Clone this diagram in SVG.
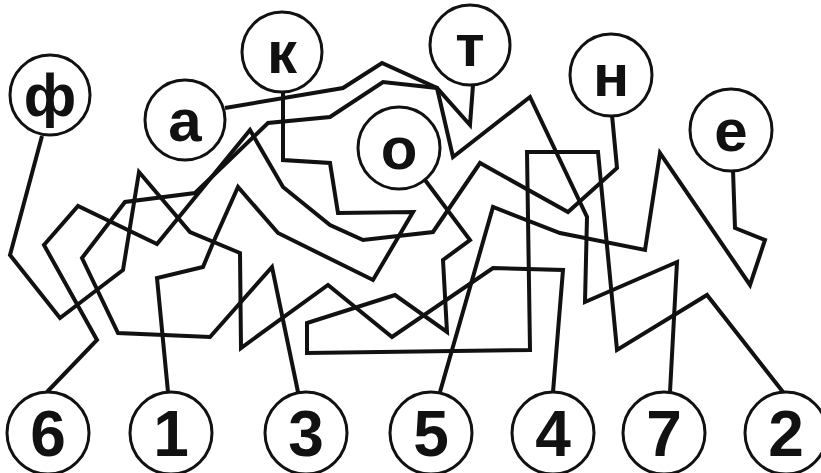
<svg xmlns="http://www.w3.org/2000/svg" width="821" height="473" viewBox="0 0 821 473">
<style>
.c{fill:#fff;stroke:#111;stroke-width:3}
.t{font-family:"Liberation Sans",Arial,sans-serif;font-weight:bold;fill:#111;text-anchor:middle}
.l{font-size:60px}
.n{font-size:64px}
.w{fill:none;stroke:#111;stroke-width:4;stroke-linejoin:miter}
</style>
<rect width="821" height="473" fill="#fff"/>
<g id="connectors">
<polyline class="w" points="42,136 10,255 60,318 123,270 139,172 190,232 240,253 241,348 328,285 392,337 493,268 563,270 553,392"/>
<polyline class="w" points="47,392 97,340 44,245 78,206 157,244 250,130 283,187 330,225 363,240 433,232 480,163 568,212 617,168 612,115"/>
<polyline class="w" points="283,92 283,160 330,163 338,213 413,212 373,280 278,233 238,187 213,243 203,267 157,278 168,392"/>
<polyline class="w" points="473,85 470,125 437,88 383,82 330,117 268,123 195,193 125,202 82,258 118,333 210,337 272,267 298,392"/>
<polyline class="w" points="425,180 470,240 443,260 447,332 395,295 307,323 307,353 530,350 527,152 598,152 617,350 707,295 783,392"/>
<polyline class="w" points="225,108 343,88 382,63 437,88 453,157 530,97 587,217 585,302 677,262 670,392"/>
<polyline class="w" points="733,170 735,228 765,240 750,285 660,153 645,250 560,233 493,207 440,392"/>
</g>
<g id="n-f"><circle class="c" cx="50" cy="95" r="40"/><text class="t l" x="50" y="116">ф</text></g>
<g id="n-a"><circle class="c" cx="185" cy="120" r="40"/><text class="t l" x="185" y="141">а</text></g>
<g id="n-k"><circle class="c" cx="282" cy="52" r="40"/><text class="t l" x="282" y="73">к</text></g>
<g id="n-t"><circle class="c" cx="470" cy="45" r="40"/><text class="t l" x="470" y="66">т</text></g>
<g id="n-o"><circle class="c" cx="399" cy="148" r="41"/><text class="t l" x="399" y="169">о</text></g>
<g id="n-n"><circle class="c" cx="611" cy="75" r="41"/><text class="t l" x="611" y="96">н</text></g>
<g id="n-e"><circle class="c" cx="731" cy="130" r="41"/><text class="t l" x="731" y="151">е</text></g>
<g id="n-6"><circle class="c" cx="48" cy="433" r="41"/><text class="t n" x="48" y="456">6</text></g>
<g id="n-1"><circle class="c" cx="171" cy="433" r="41"/><text class="t n" x="171" y="456">1</text></g>
<g id="n-3"><circle class="c" cx="306" cy="433" r="41"/><text class="t n" x="306" y="456">3</text></g>
<g id="n-5"><circle class="c" cx="431" cy="433" r="41"/><text class="t n" x="431" y="456">5</text></g>
<g id="n-4"><circle class="c" cx="553" cy="433" r="41"/><text class="t n" x="553" y="456">4</text></g>
<g id="n-7"><circle class="c" cx="664" cy="433" r="41"/><text class="t n" x="664" y="456">7</text></g>
<g id="n-2"><circle class="c" cx="786" cy="433" r="41"/><text class="t n" x="786" y="456">2</text></g>
</svg>
